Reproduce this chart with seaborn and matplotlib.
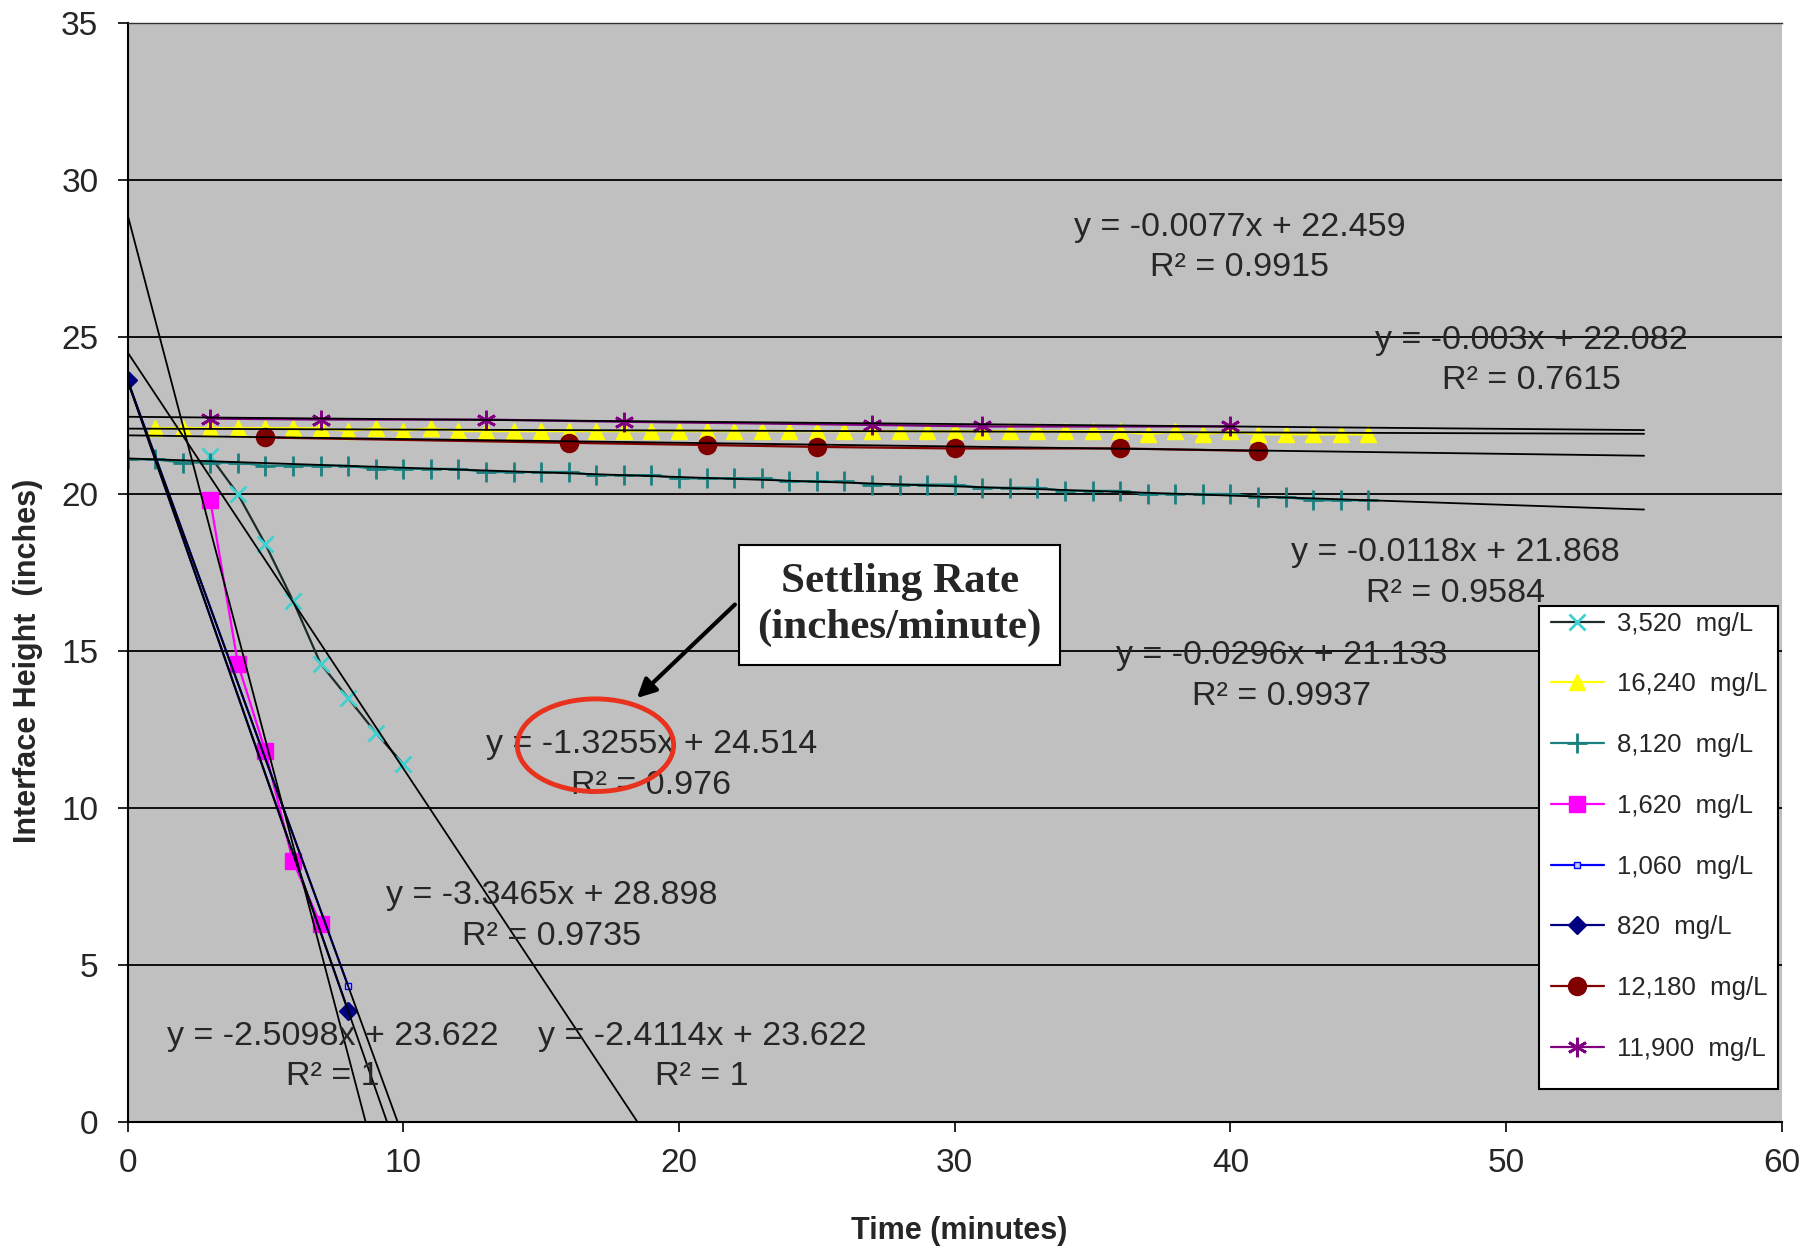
"""
Settling column test: interface height vs time for several solids concentrations,
with Excel-style linear trendlines and their equations.
"""

import matplotlib
matplotlib.use("Agg")
import matplotlib.pyplot as plt
from matplotlib import font_manager
from matplotlib.patches import Ellipse, Rectangle
import seaborn as sns

# ---------------------------------------------------------------------------
# Data (time in minutes, interface height in inches)
# ---------------------------------------------------------------------------
t_3520 = [3, 4, 5, 6, 7, 8, 9, 10]
h_3520 = [21.2, 20.0, 18.4, 16.6, 14.6, 13.5, 12.4, 11.4]

t_16240 = list(range(1, 46))
h_16240 = [22.1, 22.1, 22.1, 22.1, 22.1, 22.1, 22.1, 22.0, 22.1, 22.0,
           22.1, 22.0, 22.0, 22.0, 22.0, 22.0, 22.0, 22.0, 22.0, 22.0,
           22.0, 22.0, 22.0, 22.0, 22.0, 22.0, 22.0, 22.0, 22.0, 22.0,
           22.0, 22.0, 22.0, 22.0, 22.0, 22.0, 21.9, 22.0, 21.9, 22.0,
           21.9, 21.9, 21.9, 21.9, 21.9]

t_8120 = list(range(0, 46))
h_8120 = [21.1, 21.1, 21.0, 21.0, 21.0, 20.9, 20.9, 20.9, 20.9, 20.8,
          20.8, 20.8, 20.8, 20.7, 20.7, 20.7, 20.7, 20.6, 20.6, 20.6,
          20.5, 20.5, 20.5, 20.5, 20.4, 20.4, 20.4, 20.3, 20.3, 20.3,
          20.3, 20.2, 20.2, 20.2, 20.1, 20.1, 20.1, 20.0, 20.0, 20.0,
          20.0, 19.9, 19.9, 19.8, 19.8, 19.8]

t_1620 = [3, 4, 5, 6, 7]
h_1620 = [19.8, 14.6, 11.8, 8.3, 6.3]

t_1060 = [0, 8]
h_1060 = [23.622, 4.33]

t_820 = [0, 8]
h_820 = [23.622, 3.54]

t_12180 = [5, 16, 21, 25, 30, 36, 41]
h_12180 = [21.8, 21.63, 21.56, 21.5, 21.45, 21.45, 21.37]

t_11900 = [3, 7, 13, 18, 27, 31, 40]
h_11900 = [22.4, 22.37, 22.37, 22.3, 22.2, 22.15, 22.15]

series_labels = ["3,520  mg/L", "16,240  mg/L", "8,120  mg/L", "1,620  mg/L",
                 "1,060  mg/L", "820  mg/L", "12,180  mg/L", "11,900  mg/L"]

# trendlines (slope, intercept, R^2) as reported in the chart
trend_slopes = [-0.0077, -0.003, -0.0118, -0.0296, -1.3255, -3.3465, -2.5098, -2.4114]
trend_icepts = [22.459, 22.082, 21.868, 21.133, 24.514, 28.898, 23.622, 23.622]
trend_r2 = ["0.9915", "0.7615", "0.9584", "0.9937", "0.976", "0.9735", "1", "1"]
trend_xend = 55

# ---------------------------------------------------------------------------
# Fonts
# ---------------------------------------------------------------------------
names = {f.name for f in font_manager.fontManager.ttflist}
SANS = "Liberation Sans" if "Liberation Sans" in names else "DejaVu Sans"
SERIF = "Liberation Serif" if "Liberation Serif" in names else "DejaVu Serif"

sns.set_style("white", rc={"axes.facecolor": "#c0c0c0"})
plt.rcParams["font.family"] = [SANS, "DejaVu Sans"]

fig = plt.figure(figsize=(18.17, 12.5), dpi=100)
ax = fig.add_axes([0.0702, 0.1024, 0.9105, 0.8792])

# series styles: line colour, marker, marker face, marker edge, size
styles = [
    ("#1c2a2a", "x", "#40d0d0", "#40d0d0", 11),
    ("#ffff00", "^", "#ffff00", "#ffff00", 12),
    ("#1a7f7f", "+", "#1a7f7f", "#1a7f7f", 14),
    ("#ff00ff", "s", "#ff00ff", "#ff00ff", 11),
    ("#0000ff", "s", "#c8c8ff", "#0000ff", 5),
    ("#000080", "D", "#000080", "#000080", 9),
    ("#800000", "o", "#800000", "#800000", 13),
    ("#800080", (6, 2, 0), "#800080", "#800080", 14),
]
all_t = [t_3520, t_16240, t_8120, t_1620, t_1060, t_820, t_12180, t_11900]
all_h = [h_3520, h_16240, h_8120, h_1620, h_1060, h_820, h_12180, h_11900]

for t, h, lab, (lc, mk, mfc, mec, ms) in zip(all_t, all_h, series_labels, styles):
    sns.lineplot(x=t, y=h, ax=ax, estimator=None, sort=False, color=lc,
                 linewidth=1.6, marker=mk, markersize=ms, markerfacecolor=mfc,
                 markeredgecolor=mec, markeredgewidth=2.0 if mk in ("x", "+", (6, 2, 0)) else 1.0,
                 label=lab, zorder=2)

# trendlines drawn on top of the series, as Excel does
for m, b in zip(trend_slopes, trend_icepts):
    ax.plot([0, trend_xend], [b, b + m * trend_xend], color="black", lw=1.3, zorder=2.5)

# trendline equations (x centre, y centre in data units)
eq_pos = [(40.34, 27.85), (50.9, 24.25), (48.15, 17.48), (41.85, 14.21),
          (18.99, 11.37), (15.38, 6.57), (7.44, 2.09), (20.84, 2.09)]
for (x, y), m, b, r2 in zip(eq_pos, trend_slopes, trend_icepts, trend_r2):
    ax.text(x, y, f"y = {m:g}x + {b:g}\nR² = {r2}", ha="center", va="center",
            multialignment="center", fontsize=24.5, linespacing=1.4, zorder=4)

# axes styling
ax.set_xlim(0, 60)
ax.set_ylim(0, 35)
ax.set_xticks(range(0, 61, 10))
ax.set_yticks(range(0, 36, 5))
ax.grid(axis="y", color="black", lw=1.3)
ax.grid(axis="x", visible=False)
ax.set_axisbelow(True)
ax.tick_params(axis="both", labelsize=24, direction="out", length=7, width=1.2,
               color="black", left=True, bottom=True)
ax.tick_params(axis="y", pad=14)
ax.tick_params(axis="x", pad=12)
for side in ("left", "bottom"):
    ax.spines[side].set_color("black")
    ax.spines[side].set_linewidth(1.5)
ax.spines["right"].set_visible(False)
ax.spines["top"].set_color("#303030")
ax.spines["top"].set_linewidth(1.0)

ax.set_xlabel("Time (minutes)", fontsize=22, fontweight="bold", va="center")
ax.set_ylabel("Interface Height  (inches)", fontsize=22, fontweight="bold", va="center")
ax.xaxis.set_label_coords(0.5026, -0.099)
ax.yaxis.set_label_coords(-0.060, 0.42)

# callout: settling rate
ax.add_patch(Ellipse((16.97, 12.0), width=5.67, height=2.95, fill=False,
                     edgecolor="#e8321e", lw=3.5, zorder=6))
ax.annotate("", xy=(18.4, 13.44), xytext=(22.1, 16.54),
            arrowprops=dict(arrowstyle="-|>", lw=3, color="black", mutation_scale=28),
            zorder=6)
ax.text(28.0, 16.46, "Settling Rate\n(inches/minute)", ha="center", va="center",
        family=[SERIF, "DejaVu Serif"], fontsize=31, fontweight="bold", linespacing=1.25,
        bbox=dict(boxstyle="square,pad=0.42", fc="white", ec="black", lw=1.5), zorder=7)

# legend with a taller white frame behind it
ax.add_patch(Rectangle((0.853, 0.030), 0.1446, 0.4395, transform=ax.transAxes,
                       facecolor="white", edgecolor="black", lw=1.5, zorder=8))
handles, labels = ax.get_legend_handles_labels()
leg = ax.legend(handles, labels, loc="upper left", bbox_to_anchor=(0.855, 0.4725),
                frameon=False, borderaxespad=0, borderpad=0.35, handlelength=2.05,
                handletextpad=0.5, labelspacing=1.43,
                prop={"family": [SANS, "DejaVu Sans"], "size": 18.5})
leg.set_zorder(9)

plt.savefig("out.png", dpi=100)
plt.close()
